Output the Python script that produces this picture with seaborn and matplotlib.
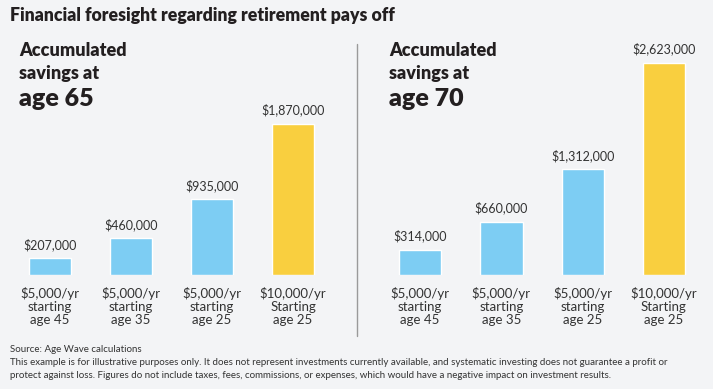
import matplotlib
matplotlib.use("Agg")
import matplotlib.pyplot as plt
import seaborn as sns
import pandas as pd

# Data
categories = ["$5,000/yr\nstarting\nage 45", "$5,000/yr\nstarting\nage 35",
              "$5,000/yr\nstarting\nage 25", "$10,000/yr\nStarting\nage 25"]
savings_65 = [207000, 460000, 935000, 1870000]
savings_70 = [314000, 660000, 1312000, 2623000]
bar_colors = ["#7dcdf3", "#7dcdf3", "#7dcdf3", "#f9cf3f"]

BG = "#f3f4f6"
TXT = "#231f20"

sns.set_theme(style="white")
plt.rcParams["font.family"] = ["Lato", "DejaVu Sans"]

W, H = 713, 389
fig = plt.figure(figsize=(W / 100, H / 100), dpi=100, facecolor=BG)


def px_axes(x0, x1, y_top, y_bottom):
    """Add axes using pixel coordinates measured from the top-left corner."""
    return fig.add_axes([x0 / W, (H - y_bottom) / H, (x1 - x0) / W, (y_bottom - y_top) / H])


def draw_panel(ax, values):
    df = pd.DataFrame({"cat": categories, "value": values})
    sns.barplot(data=df, x="cat", y="value", hue="cat", palette=bar_colors,
                width=0.52, legend=False, ax=ax, saturation=1)
    ax.set_ylim(0, 3000000)
    ax.set_xlim(-0.5, 3.5)
    ax.set_facecolor("none")
    ax.set_xlabel("")
    ax.set_ylabel("")
    ax.set_yticks([])
    ax.tick_params(axis="x", length=0, pad=9, labelsize=9.5, labelcolor="#333333")
    for lbl in ax.get_xticklabels():
        lbl.set_linespacing(1.05)
    for s in ax.spines.values():
        s.set_visible(False)
    for i, v in enumerate(values):
        ax.annotate(f"${v:,.0f}", (i, v), xytext=(0, 5), textcoords="offset points",
                    ha="center", va="bottom", fontsize=9, color="#333333")


ax1 = px_axes(9.5, 333.5, 32, 275)
draw_panel(ax1, savings_65)
ax2 = px_axes(379.5, 704.5, 32, 275)
draw_panel(ax2, savings_70)

# Titles
fig.text(10 / W, 1 - 15 / H, "Financial foresight regarding retirement pays off",
         fontsize=12.7, fontweight="heavy", color=TXT, va="center", ha="left")
for x0, age in [(19, 65), (389, 70)]:
    fig.text(x0 / W, 1 - 50 / H, "Accumulated", fontsize=13,
             fontweight="heavy", color=TXT, va="center", ha="left")
    fig.text(x0 / W, 1 - 73 / H, "savings at", fontsize=13,
             fontweight="heavy", color=TXT, va="center", ha="left")
    fig.text(x0 / W, 1 - 99 / H, f"age {age}", fontsize=18,
             fontweight="heavy", color=TXT, va="center", ha="left")

# Divider
fig.add_artist(plt.Line2D([357 / W, 357 / W], [1 - 44 / H, 1 - 336 / H],
                          color="#9a9a9a", lw=1))

# Footer
footer = ["Source: Age Wave calculations",
          "This example is for illustrative purposes only. It does not represent investments currently available, "
          "and systematic investing does not guarantee a profit or",
          "protect against loss. Figures do not include taxes, fees, commissions, or expenses, which would have a "
          "negative impact on investment results."]
for k, line in enumerate(footer):
    fig.text(10 / W, 1 - (350 + 12.7 * k) / H, line, fontsize=7, color="#333333",
             va="center", ha="left")

fig.savefig("out.png", dpi=100, facecolor=BG)
